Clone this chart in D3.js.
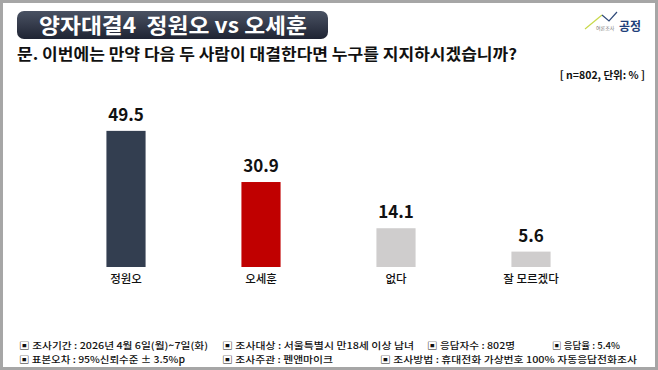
<!DOCTYPE html>
<html>
<head>
<meta charset="utf-8">
<title>양자대결4 정원오 vs 오세훈</title>
<script src="https://d3js.org/d3.v7.min.js"></script>
<style>
  body { margin: 0; background: #fff; }
  svg { display: block; font-family: "Noto Sans CJK KR", "Noto Sans", sans-serif; }
  text { white-space: pre; }
</style>
</head>
<body>
<svg width="658" height="370"></svg>
<script>
// data
var categories = ["정원오", "오세훈", "없다", "잘 모르겠다"];
var values = [49.5, 30.9, 14.1, 5.6];
var barColors = ["#333e50", "#c00000", "#cfcdcd", "#cfcdcd"];

var footerRow1 = ["▣ 조사기간 : 2026년 4월 6일(월)~7일(화)", "▣ 조사대상 : 서울특별시 만18세 이상 남녀", "▣ 응답자수 : 802명", "▣ 응답율 : 5.4%"];
var footerRow2 = ["▣ 표본오차 : 95%신뢰수준 ± 3.5%p", "▣ 조사주관 : 펜앤마이크", "▣ 조사방법 : 휴대전화 가상번호 100% 자동응답전화조사"];

var svg = d3.select("svg"),
    width = +svg.attr("width"),
    height = +svg.attr("height");

// frame
svg.append("rect")
    .attr("x", 1.5).attr("y", 1.5)
    .attr("width", width - 3).attr("height", height - 3)
    .attr("fill", "#fff")
    .attr("stroke", "#a6a6a6")
    .attr("stroke-width", 3);

// title box
var grad = svg.append("defs").append("linearGradient")
    .attr("id", "tgrad").attr("x1", 0).attr("y1", 0).attr("x2", 0).attr("y2", 1);
grad.append("stop").attr("offset", "0%").attr("stop-color", "#4a5263");
grad.append("stop").attr("offset", "100%").attr("stop-color", "#1f2433");

svg.append("rect")
    .attr("x", 17).attr("y", 11)
    .attr("width", 311).attr("height", 28)
    .attr("rx", 7)
    .attr("fill", "url(#tgrad)");

svg.append("text")
    .attr("x", 39).attr("y", 33)
    .attr("fill", "#fff")
    .attr("font-size", 21)
    .attr("font-weight", "bold")
    .attr("textLength", 268)
    .attr("lengthAdjust", "spacingAndGlyphs")
    .text("양자대결4  정원오 vs 오세훈");

// question
svg.append("text")
    .attr("x", 17).attr("y", 60)
    .attr("fill", "#111")
    .attr("font-size", 15.5)
    .attr("font-weight", "bold")
    .attr("textLength", 500)
    .attr("lengthAdjust", "spacingAndGlyphs")
    .text("문. 이번에는 만약 다음 두 사람이 대결한다면 누구를 지지하시겠습니까?");

svg.append("text")
    .attr("x", 645).attr("y", 79)
    .attr("text-anchor", "end")
    .attr("fill", "#111")
    .attr("font-size", 10.5)
    .attr("font-weight", "bold")
    .text("[ n=802, 단위: % ]");

// logo
var logo = svg.append("g");
logo.append("path")
    .attr("d", "M585,29 L602,15")
    .attr("stroke", "#c8d84a").attr("stroke-width", 1.2).attr("fill", "none");
logo.append("path")
    .attr("d", "M602,15 L609,21 L617,12")
    .attr("stroke", "#2f4a7a").attr("stroke-width", 1.2).attr("fill", "none");
logo.append("text")
    .attr("x", 596).attr("y", 30)
    .attr("fill", "#777").attr("font-size", 5)
    .text("여론조사");
logo.append("text")
    .attr("x", 619).attr("y", 31)
    .attr("fill", "#1f3f7a").attr("font-size", 12).attr("font-weight", "bold")
    .text("공정");

// scales
var x = d3.scaleBand()
    .domain(categories)
    .range([58.5, 598.5])
    .paddingInner(0.71)
    .paddingOuter(0.355);

var y = d3.scaleLinear()
    .domain([0, 50])
    .range([267, 129.5]);

var bars = svg.append("g");

bars.selectAll("rect")
  .data(values)
  .enter().append("rect")
    .attr("x", function(d, i) { return x(categories[i]); })
    .attr("y", function(d) { return y(d); })
    .attr("width", x.bandwidth())
    .attr("height", function(d) { return y(0) - y(d); })
    .attr("fill", function(d, i) { return barColors[i]; });

bars.selectAll(".val")
  .data(values)
  .enter().append("text")
    .attr("class", "val")
    .attr("x", function(d, i) { return x(categories[i]) + x.bandwidth() / 2; })
    .attr("y", function(d) { return y(d) - 10; })
    .attr("text-anchor", "middle")
    .attr("fill", "#111")
    .attr("font-size", 17)
    .attr("font-weight", "bold")
    .text(function(d) { return d.toFixed(1); });

// category labels
svg.append("g")
    .attr("transform", "translate(0," + y(0) + ")")
    .call(d3.axisBottom(x).tickSize(0).tickPadding(8))
    .call(function(g) { g.select(".domain").remove(); })
    .selectAll("text")
    .attr("fill", "#111")
    .attr("font-size", 11.5)
    .attr("font-weight", 500)
    .attr("font-family", "\"Noto Sans CJK KR\", sans-serif");

// footer
var col1 = [19, 222, 427, 552];
var len1 = [189, 192, 88, 68];
var col2 = [19, 222, 380];
var len2 = [166, 111, 257];

svg.append("g").selectAll("text")
  .data(footerRow1)
  .enter().append("text")
    .attr("x", function(d, i) { return col1[i]; })
    .attr("y", 349)
    .attr("fill", "#111")
    .attr("font-size", 9.3)
    .attr("font-weight", 500)
    .attr("textLength", function(d, i) { return len1[i]; })
    .attr("lengthAdjust", "spacingAndGlyphs")
    .text(function(d) { return d; });

svg.append("g").selectAll("text")
  .data(footerRow2)
  .enter().append("text")
    .attr("x", function(d, i) { return col2[i]; })
    .attr("y", 362.5)
    .attr("fill", "#111")
    .attr("font-size", 9.3)
    .attr("font-weight", 500)
    .attr("textLength", function(d, i) { return len2[i]; })
    .attr("lengthAdjust", "spacingAndGlyphs")
    .text(function(d) { return d; });
</script>
</body>
</html>
